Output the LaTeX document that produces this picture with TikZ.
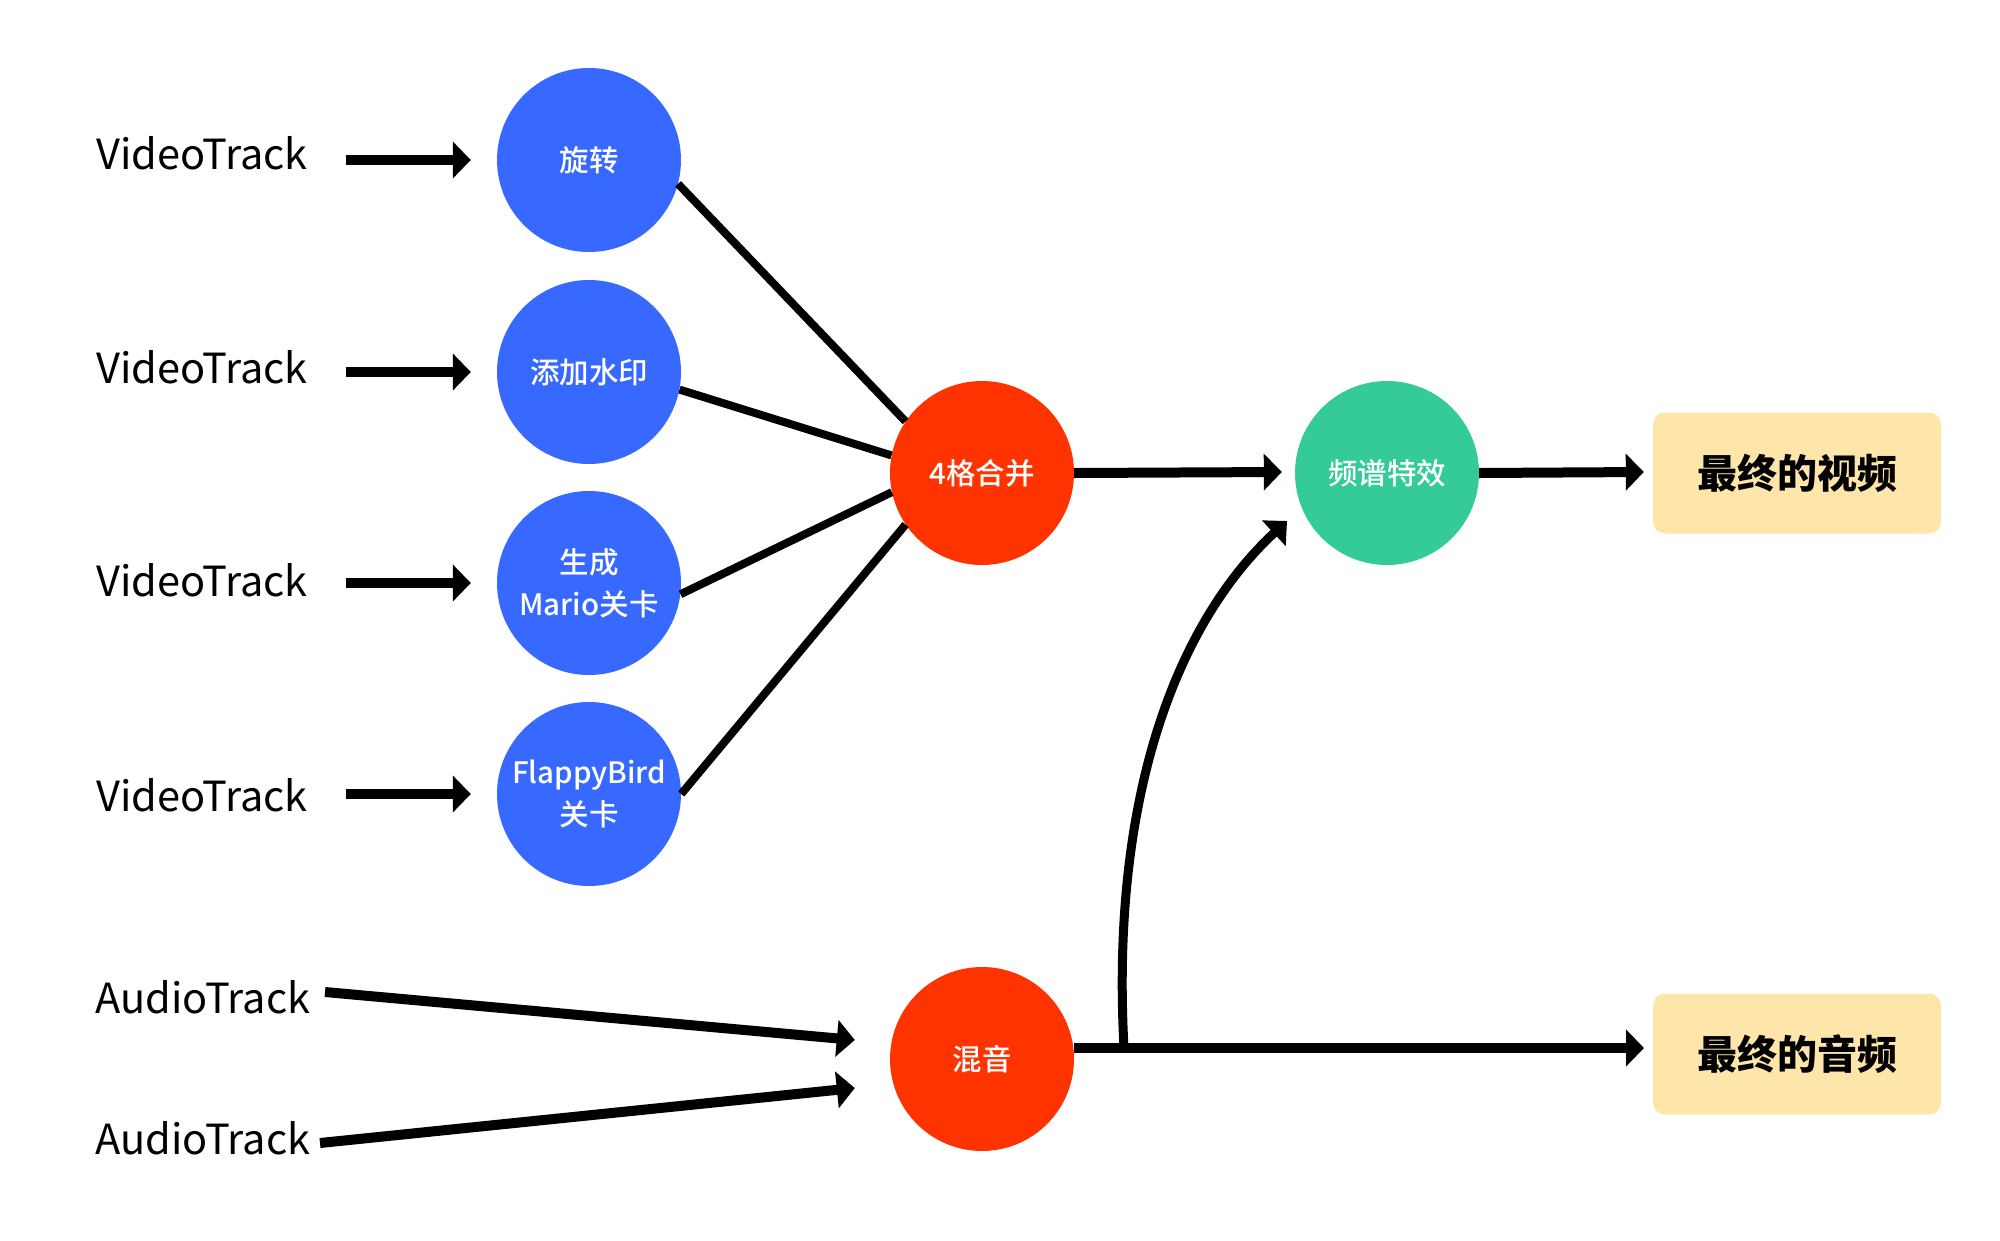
\documentclass[tikz,border=0pt]{standalone}
\usepackage{fontspec}
\setmainfont{Noto Sans CJK SC}
\newfontfamily\medfont{Noto Sans CJK SC}[UprightFont=* Medium]
\usetikzlibrary{arrows.meta,calc}
\definecolor{cblue}{RGB}{55,104,255}
\definecolor{cred}{RGB}{255,51,0}
\definecolor{cgreen}{RGB}{53,203,153}
\definecolor{cbox}{RGB}{254,229,169}
\begin{document}
\begin{tikzpicture}[x=1pt,y=-1pt,
  trk/.style={anchor=base west,inner sep=0pt,font=\fontsize{41.5}{48}\selectfont},
  proc/.style={circle,minimum size=184pt,inner sep=0pt,text=white,align=center,
    font=\medfont\fontsize{29.5}{42}\selectfont},
  outbox/.style={rectangle,rounded corners=12pt,fill=cbox,minimum width=288pt,
    minimum height=121pt,inner sep=0pt,font=\fontsize{40}{48}\selectfont\bfseries},
  arr/.style={line width=10pt,-{Triangle[length=18pt,width=36pt]}},
  fan/.style={line width=8pt},
  curv/.style={line width=9pt,-{Triangle[length=18pt,width=34pt]}}]
\useasboundingbox (0,0) rectangle (2000,1240);

% processing nodes
\node[proc,fill=cblue] (b1) at (589,160) {旋转};
\node[proc,fill=cblue] (b2) at (589,372) {添加水印};
\node[proc,fill=cblue] (b3) at (589,583) {生成\\Mario关卡};
\node[proc,fill=cblue] (b4) at (589,794) {FlappyBird\\关卡};
\node[proc,fill=cred] (m) at (982,473) {4格合并};
\node[proc,fill=cgreen] (f) at (1387,473) {频谱特效};
\node[proc,fill=cred] (mix) at (982,1059) {混音};
\node[outbox] (o1) at (1797,473) {最终的视频};
\node[outbox] (o2) at (1797,1054) {最终的音频};

% track labels
\node[trk] (v1) at (96,169) {VideoTrack};
\node[trk] (v2) at (96,383) {VideoTrack};
\node[trk] (v3) at (96,596) {VideoTrack};
\node[trk] (v4) at (96,811) {VideoTrack};
\node[trk] (a1) at (95,1013) {AudioTrack};
\node[trk] (a2) at (95,1154) {AudioTrack};

% video track arrows
\draw[arr] ([xshift=-151pt]b1.west) -- ([xshift=-26pt]b1.west);
\draw[arr] ([xshift=-151pt]b2.west) -- ([xshift=-26pt]b2.west);
\draw[arr] ([xshift=-151pt]b3.west) -- ([xshift=-26pt]b3.west);
\draw[arr] ([xshift=-151pt]b4.west) -- ([xshift=-26pt]b4.west);

% fan-in lines
\draw[fan] (b1.-15) -- (m.146);
\draw[fan] (b2.-11) -- (m.169);
\draw[fan] (b3.-7) -- (m.192);
\draw[fan] (b4.0) -- (m.214);

% main flow
\draw[arr] (m.east) -- ([xshift=-13pt,yshift=1pt]f.west);
\draw[arr] (f.east) -- ([xshift=-9pt,yshift=1pt]o1.west);

% audio
\coordinate (s1) at (325,992);
\coordinate (s2) at (320,1143);
\draw[arr] (s1) -- ([shift={(-35pt,19pt)}]mix.west);
\draw[arr] (s2) -- ([shift={(-35pt,-29pt)}]mix.west);

\coordinate (j) at (1124,1048);
\coordinate (t2) at (1644,1048);
\coordinate (t1) at (1287,521);
\draw[arr] ([yshift=11pt]mix.east) -- (t2);
\draw[curv] (j) .. controls (1110,790) and (1180,620) .. (t1);
\end{tikzpicture}
\end{document}
